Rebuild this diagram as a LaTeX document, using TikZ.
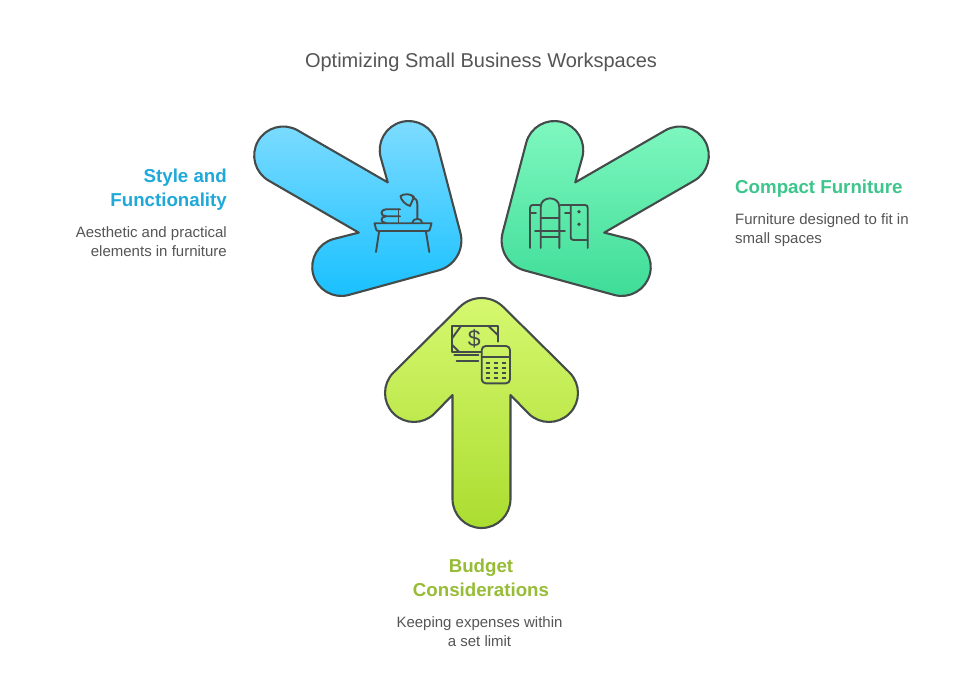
\documentclass[tikz,border=0pt]{standalone}
\usepackage{fontspec}
\setmainfont{Liberation Sans}
\definecolor{ink}{HTML}{444B4B}
\definecolor{txt}{HTML}{555555}
\definecolor{bluehd}{HTML}{1FA9D8}
\definecolor{greenhd}{HTML}{3CC68C}
\definecolor{limehd}{HTML}{97BC35}
\definecolor{bluetop}{HTML}{7FDCFF}
\definecolor{bluebot}{HTML}{17C0FF}
\definecolor{greentop}{HTML}{80F8C0}
\definecolor{greenbot}{HTML}{3DDC97}
\definecolor{limetop}{HTML}{D6F870}
\definecolor{limebot}{HTML}{ABDD30}
\tikzset{
  x=1pt,y=-1pt,
  arrowbody/.style={draw=ink,line width=2.1pt,line join=round},
  icon/.style={draw=ink,line width=1.9pt,line cap=round,line join=round},
  iconthick/.style={draw=ink,line width=2.1pt},
  title/.style={font=\fontsize{20}{24}\selectfont,text=txt,inner sep=0pt},
  head/.style={font=\bfseries\fontsize{18.7}{24}\selectfont,inner sep=0pt},
  body/.style={font=\fontsize{15}{18.8}\selectfont,text=txt,inner sep=0pt},
}
\newcommand{\bigarrow}[4]{%
  \begin{scope}[shift={(481.5,270)},rotate=#2]
    \foreach \n/\x/\y in {a/-29/125,b/-47/143.5,c/-58.3/154.8,d/-76.7/154.8,e/-88/143.5,f/-99.3/132.2,g/-99.3/113.8,h/-88/102.5,i/-21.9/37.1,j/-9.8/25,k/9.8/25,l/21.9/37.1,m/88/102.5,n/99.3/113.8,o/99.3/132.2,p/88/143.5,q/76.7/154.8,r/58.3/154.8,s/47/143.5,t/29/125,u/29/229,v/29/245,w/16/258,xx/0/258,yy/-16/258,z/-29/245,aa/-29/229}
      {\coordinate (#1\n) at (\x,\y);}
  \end{scope}
  \draw[arrowbody,top color=#3,bottom color=#4]
    (#1a) -- (#1b) .. controls (#1c) and (#1d) .. (#1e)
    .. controls (#1f) and (#1g) .. (#1h) -- (#1i)
    .. controls (#1j) and (#1k) .. (#1l) -- (#1m)
    .. controls (#1n) and (#1o) .. (#1p)
    .. controls (#1q) and (#1r) .. (#1s) -- (#1t) -- (#1u)
    .. controls (#1v) and (#1w) .. (#1xx)
    .. controls (#1yy) and (#1z) .. (#1aa) -- cycle;
}
\begin{document}
\begin{tikzpicture}
\useasboundingbox[fill=white] (0,0) rectangle (962,698);

\bigarrow{blue}{-120}{bluetop}{bluebot}
\bigarrow{green}{120}{greentop}{greenbot}
\bigarrow{lime}{0}{limetop}{limebot}

% desk icon
\draw[icon] (374.5,223.3) -- (431.5,223.3) -- (430,229) .. controls (429.6,230.5) and (429,231) .. (427,231) -- (379,231) .. controls (377,231) and (376.4,230.5) .. (376,229) -- cycle;
\draw[icon] (379,232) -- (376,252);
\draw[icon] (426,232) -- (429.3,252);
\draw[icon] (400,209.3) -- (386,209.3) .. controls (380,209.3) and (380,216.3) .. (386,216.3) -- (400,216.3);
\draw[icon] (386,216.3) .. controls (380,216.3) and (380,223) .. (386,223);
\draw[icon] (398.5,209.3) -- (398.5,223);
\draw[icon] (412.3,223) .. controls (412.5,217.5) and (422,217.5) .. (422.3,223);
\draw[icon] (417.3,218.5) -- (417.3,204) .. controls (417.3,200.5) and (415.5,198) .. (412.5,197);
\draw[icon] (400.5,196) .. controls (404,193.5) and (411,193.5) .. (414,197) -- (410,206) .. controls (405,204.5) and (401,200) .. (400.5,196) -- cycle;

% vanity icon
\draw[icon] (540.7,248) -- (540.7,207) .. controls (540.7,195.5) and (559.3,195.5) .. (559.3,207) -- (559.3,248);
\draw[icon] (540.7,218.3) -- (559.3,218.3);
\draw[icon] (535,230.7) -- (565,230.7);
\draw[icon] (540.7,236.7) -- (559.3,236.7);
\draw[icon] (530,248) -- (530,208) .. controls (530,206) and (531,205) .. (533,205) -- (540,205);
\draw[icon] (530,212.7) -- (536,212.7);
\draw[icon] (560.5,205) -- (585,205) .. controls (587,205) and (587.7,206) .. (587.7,208) -- (587.7,248);
\draw[icon] (565,212.7) -- (570,212.7);
\draw[icon] (570.7,205) -- (570.7,237) .. controls (570.7,239) and (571.5,240) .. (573.5,240) -- (587.7,240);
\fill[ink] (579,211.7) circle[radius=1.9pt] (579,224.3) circle[radius=1.9pt];

% money and calculator icon
\draw[icon] (497.7,341.7) -- (497.7,326) -- (452.3,326) -- (452.3,351.7) -- (481,351.7);
\draw[icon] (452.3,338) -- (461,326);
\draw[icon] (488.5,326) -- (497.7,335);
\draw[icon] (452.3,345) -- (459,351.7);
\node[inner sep=0pt,text=ink,font=\fontsize{23}{24}\selectfont] (dollar) at (474.3,338.5) {\$};
\draw[icon] (454.3,355) -- (478.3,355);
\draw[icon] (456.7,361) -- (478.3,361);
\draw[icon,rounded corners=4pt] (481.7,346) rectangle (510,383.3);
\draw[icon] (481.7,357.3) -- (510,357.3);
\foreach \yy in {363.3,368.3,373.3,378.3}{
  \draw[iconthick] (485.7,\yy) -- (490,\yy);
  \draw[iconthick] (493.5,\yy) -- (498,\yy);
  \draw[iconthick] (501.5,\yy) -- (506,\yy);
}

% texts
\node[title] (ttl) at (481,62.3) {Optimizing Small Business Workspaces};
\node[head,text=bluehd,align=right,anchor=east] (hstyle) at (227,189.5) {Style and\\Functionality};
\node[body,align=right,anchor=east] (bstyle) at (227,241.5) {Aesthetic and practical\\elements in furniture};
\node[head,text=greenhd,anchor=west] (hcomp) at (735,189) {Compact Furniture};
\node[body,align=left,anchor=west] (bcomp) at (735,230) {Furniture designed to fit in\\small spaces};
\node[head,text=limehd,align=center] (hbud) at (481,578) {Budget\\Considerations};
\node[body,align=center] (bbud) at (479.5,631.5) {Keeping expenses within\\a set limit};
\end{tikzpicture}
\end{document}
